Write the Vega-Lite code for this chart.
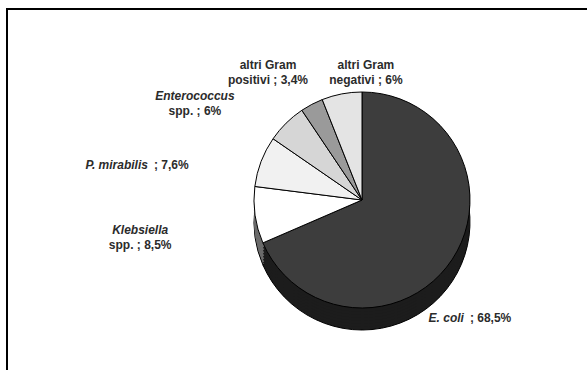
{
  "$schema": "https://vega.github.io/schema/vega-lite/v6.json",
  "autosize": {"type": "none"},
  "width": 710,
  "height": 382,
  "padding": {"left": 7, "top": 9, "right": -130, "bottom": -21},
  "background": "#ffffff",
  "config": {"view": {"stroke": null}},
  "data": {"values": [
    {"i": 1, "name": "E. coli", "pct": 68.5, "l1": "E. coli", "l2": "; 68,5%"},
    {"i": 2, "name": "Klebsiella", "pct": 8.5, "l1": "Klebsiella", "l2": "spp. ; 8,5%"},
    {"i": 3, "name": "P. mirabilis", "pct": 7.6, "l1": "P. mirabilis", "l2": "; 7,6%"},
    {"i": 4, "name": "Enterococcus", "pct": 6, "l1": "Enterococcus", "l2": "spp. ; 6%"},
    {"i": 5, "name": "altri Gram positivi", "pct": 3.4, "l1": "altri Gram", "l2": "positivi ; 3,4%"},
    {"i": 6, "name": "altri Gram negativi", "pct": 6, "l1": "altri Gram", "l2": "negativi ; 6%"}
  ]},
  "layer": [
    {"mark": {"type": "rect", "fill": null, "stroke": "#000000", "strokeWidth": 1.5}, "encoding": {}},
    {"mark": {"type": "arc", "outerRadius": 108, "yOffset": 22, "stroke": "#000000", "strokeWidth": 1},
     "encoding": {"theta": {"field": "pct", "type": "quantitative", "stack": true}, "order": {"field": "i", "type": "quantitative"},
       "color": {"condition": {"test": "datum.i===2", "value": "#6b6b6b"}, "value": "#1c1c1c"}}},
    {"mark": {"type": "arc", "outerRadius": 108, "yOffset": 19},
     "encoding": {"theta": {"field": "pct", "type": "quantitative", "stack": true}, "order": {"field": "i", "type": "quantitative"},
       "color": {"condition": {"test": "datum.i===2", "value": "#6b6b6b"}, "value": "#1c1c1c"}}},
    {"mark": {"type": "arc", "outerRadius": 108, "yOffset": 16},
     "encoding": {"theta": {"field": "pct", "type": "quantitative", "stack": true}, "order": {"field": "i", "type": "quantitative"},
       "color": {"condition": {"test": "datum.i===2", "value": "#6b6b6b"}, "value": "#1c1c1c"}}},
    {"mark": {"type": "arc", "outerRadius": 108, "yOffset": 13},
     "encoding": {"theta": {"field": "pct", "type": "quantitative", "stack": true}, "order": {"field": "i", "type": "quantitative"},
       "color": {"condition": {"test": "datum.i===2", "value": "#6b6b6b"}, "value": "#1c1c1c"}}},
    {"mark": {"type": "arc", "outerRadius": 108, "yOffset": 10},
     "encoding": {"theta": {"field": "pct", "type": "quantitative", "stack": true}, "order": {"field": "i", "type": "quantitative"},
       "color": {"condition": {"test": "datum.i===2", "value": "#6b6b6b"}, "value": "#1c1c1c"}}},
    {"mark": {"type": "arc", "outerRadius": 108, "yOffset": 7},
     "encoding": {"theta": {"field": "pct", "type": "quantitative", "stack": true}, "order": {"field": "i", "type": "quantitative"},
       "color": {"condition": {"test": "datum.i===2", "value": "#6b6b6b"}, "value": "#1c1c1c"}}},
    {"mark": {"type": "arc", "outerRadius": 108, "yOffset": 4},
     "encoding": {"theta": {"field": "pct", "type": "quantitative", "stack": true}, "order": {"field": "i", "type": "quantitative"},
       "color": {"condition": {"test": "datum.i===2", "value": "#6b6b6b"}, "value": "#1c1c1c"}}},
    {"mark": {"type": "arc", "outerRadius": 108, "stroke": "#000000", "strokeWidth": 1},
     "encoding": {"theta": {"field": "pct", "type": "quantitative", "stack": true}, "order": {"field": "i", "type": "quantitative"},
       "color": {"field": "name", "type": "nominal", "legend": null,
       "scale": {"domain": ["E. coli", "Klebsiella", "P. mirabilis", "Enterococcus", "altri Gram positivi", "altri Gram negativi"],
                 "range": ["#3d3d3d", "#ffffff", "#f1f1f1", "#d6d6d6", "#9a9a9a", "#e4e4e4"]}}}},
    {"mark": {"type": "text", "radius": 160, "dx": -31.8, "dy": 30, "align": "right", "baseline": "middle", "font": "Liberation Sans", "fontSize": 12, "fontWeight": "bold", "fontStyle": "italic", "fill": "#2b2b2b"},
     "encoding": {"theta": {"field": "pct", "type": "quantitative", "stack": true}, "order": {"field": "i", "type": "quantitative"},
       "text": {"condition": {"test": "datum.i===1", "field": "l1"}, "value": ""}}},
    {"mark": {"type": "text", "radius": 160, "dx": -25.8, "dy": 30, "align": "left", "baseline": "middle", "font": "Liberation Sans", "fontSize": 12, "fontWeight": "bold", "fill": "#2b2b2b"},
     "encoding": {"theta": {"field": "pct", "type": "quantitative", "stack": true}, "order": {"field": "i", "type": "quantitative"},
       "text": {"condition": {"test": "datum.i===1", "field": "l2"}, "value": ""}}},
    {"mark": {"type": "text", "radius": 220, "dx": -4, "dy": -0.5, "align": "center", "baseline": "middle", "font": "Liberation Sans", "fontSize": 12, "fontWeight": "bold", "fontStyle": "italic", "fill": "#2b2b2b"},
     "encoding": {"theta": {"field": "pct", "type": "quantitative", "stack": true}, "order": {"field": "i", "type": "quantitative"},
       "text": {"condition": {"test": "datum.i===2", "field": "l1"}, "value": ""}}},
    {"mark": {"type": "text", "radius": 220, "dx": -4, "dy": 14.5, "align": "center", "baseline": "middle", "font": "Liberation Sans", "fontSize": 12, "fontWeight": "bold", "fill": "#2b2b2b"},
     "encoding": {"theta": {"field": "pct", "type": "quantitative", "stack": true}, "order": {"field": "i", "type": "quantitative"},
       "text": {"condition": {"test": "datum.i===2", "field": "l2"}, "value": ""}}},
    {"mark": {"type": "text", "radius": 200, "dx": -27.2, "dy": 36.4, "align": "right", "baseline": "middle", "font": "Liberation Sans", "fontSize": 12, "fontWeight": "bold", "fontStyle": "italic", "fill": "#2b2b2b"},
     "encoding": {"theta": {"field": "pct", "type": "quantitative", "stack": true}, "order": {"field": "i", "type": "quantitative"},
       "text": {"condition": {"test": "datum.i===3", "field": "l1"}, "value": ""}}},
    {"mark": {"type": "text", "radius": 200, "dx": -21.2, "dy": 36.4, "align": "left", "baseline": "middle", "font": "Liberation Sans", "fontSize": 12, "fontWeight": "bold", "fill": "#2b2b2b"},
     "encoding": {"theta": {"field": "pct", "type": "quantitative", "stack": true}, "order": {"field": "i", "type": "quantitative"},
       "text": {"condition": {"test": "datum.i===3", "field": "l2"}, "value": ""}}},
    {"mark": {"type": "text", "radius": 180, "dx": -40.6, "dy": 23.7, "align": "center", "baseline": "middle", "font": "Liberation Sans", "fontSize": 12, "fontWeight": "bold", "fontStyle": "italic", "fill": "#2b2b2b"},
     "encoding": {"theta": {"field": "pct", "type": "quantitative", "stack": true}, "order": {"field": "i", "type": "quantitative"},
       "text": {"condition": {"test": "datum.i===4", "field": "l1"}, "value": ""}}},
    {"mark": {"type": "text", "radius": 180, "dx": -40.6, "dy": 38.7, "align": "center", "baseline": "middle", "font": "Liberation Sans", "fontSize": 12, "fontWeight": "bold", "fill": "#2b2b2b"},
     "encoding": {"theta": {"field": "pct", "type": "quantitative", "stack": true}, "order": {"field": "i", "type": "quantitative"},
       "text": {"condition": {"test": "datum.i===4", "field": "l2"}, "value": ""}}},
    {"mark": {"type": "text", "radius": 160, "dx": -19.6, "dy": 7.1, "align": "center", "baseline": "middle", "font": "Liberation Sans", "fontSize": 12, "fontWeight": "bold", "fill": "#2b2b2b"},
     "encoding": {"theta": {"field": "pct", "type": "quantitative", "stack": true}, "order": {"field": "i", "type": "quantitative"},
       "text": {"condition": {"test": "datum.i===5", "field": "l1"}, "value": ""}}},
    {"mark": {"type": "text", "radius": 160, "dx": -19.6, "dy": 22.1, "align": "center", "baseline": "middle", "font": "Liberation Sans", "fontSize": 12, "fontWeight": "bold", "fill": "#2b2b2b"},
     "encoding": {"theta": {"field": "pct", "type": "quantitative", "stack": true}, "order": {"field": "i", "type": "quantitative"},
       "text": {"condition": {"test": "datum.i===5", "field": "l2"}, "value": ""}}},
    {"mark": {"type": "text", "radius": 150, "dx": 32, "dy": 12.8, "align": "center", "baseline": "middle", "font": "Liberation Sans", "fontSize": 12, "fontWeight": "bold", "fill": "#2b2b2b"},
     "encoding": {"theta": {"field": "pct", "type": "quantitative", "stack": true}, "order": {"field": "i", "type": "quantitative"},
       "text": {"condition": {"test": "datum.i===6", "field": "l1"}, "value": ""}}},
    {"mark": {"type": "text", "radius": 150, "dx": 32, "dy": 27.8, "align": "center", "baseline": "middle", "font": "Liberation Sans", "fontSize": 12, "fontWeight": "bold", "fill": "#2b2b2b"},
     "encoding": {"theta": {"field": "pct", "type": "quantitative", "stack": true}, "order": {"field": "i", "type": "quantitative"},
       "text": {"condition": {"test": "datum.i===6", "field": "l2"}, "value": ""}}}
  ]
}
